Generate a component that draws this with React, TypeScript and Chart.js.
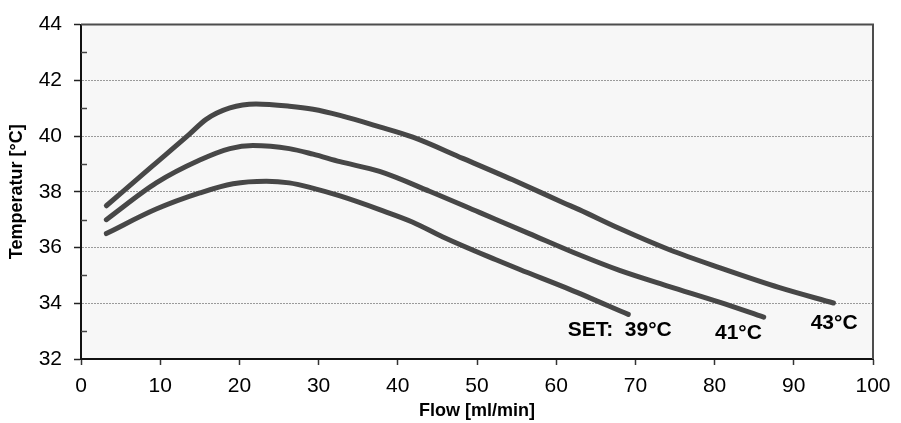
import React, { useEffect, useRef } from 'react';
import { Chart, registerables } from 'chart.js';
Chart.register(...registerables);

const FONT = "'Liberation Sans', Arial, Helvetica, sans-serif";

// SET 43°C curve
const flow43 = [3.2, 9, 13.7, 15.8, 18.8, 22.1, 26.3, 29.3, 32.7, 37.7, 41.9, 48.2, 54.5, 60.9, 62.9, 68.0, 74.3, 80.7, 88.2, 95];
const temp43 = [37.5, 38.92, 40.07, 40.6, 41.01, 41.15, 41.07, 40.96, 40.74, 40.33, 39.96, 39.2, 38.43, 37.61, 37.36, 36.68, 35.92, 35.27, 34.56, 34.01];

// SET 41°C curve
const flow41 = [3.2, 9.5, 15.0, 18.8, 21.7, 26.3, 29.3, 32.7, 37.7, 44.0, 50.3, 56.6, 62.9, 68.0, 74.3, 80.7, 86.2];
const temp41 = [37.0, 38.32, 39.14, 39.55, 39.66, 39.55, 39.35, 39.08, 38.73, 38.02, 37.26, 36.5, 35.74, 35.18, 34.6, 34.03, 33.5];

// SET 39°C curve
const flow39 = [3.2, 9.5, 15.0, 19.2, 23.4, 26.3, 29.0, 32.7, 37.7, 41.9, 45.7, 52.4, 55.4, 61.7, 69.1];
const temp39 = [36.5, 37.38, 37.96, 38.29, 38.38, 38.32, 38.15, 37.85, 37.36, 36.91, 36.38, 35.56, 35.21, 34.5, 33.6];

// curve annotations (data coordinates of text start / baseline)
const labelText = ['SET:  39°C', '41°C', '43°C'];
const labelFlow = [61.45, 80.05, 92.13];
const labelTemp = [32.84, 32.70, 33.09];

// axis ranges / ticks
const xMin = 0, xMax = 100, xStep = 10;
const yMin = 32, yMax = 44, yStep = 2;
const yMinorTicks = [33, 35, 37, 39, 41, 43];

const LINE_COLOR = '#474747';

function zip(xs: number[], ys: number[]) {
  return xs.map((x, i) => ({ x, y: ys[i] }));
}

const framePlugin = {
  id: 'frame',
  beforeDraw(chart: any) {
    const { ctx, chartArea: a } = chart;
    ctx.save();
    ctx.fillStyle = '#f7f7f7';
    ctx.fillRect(a.left, a.top, a.right - a.left, a.bottom - a.top);
    ctx.restore();
  },
  afterDraw(chart: any) {
    const { ctx, chartArea: a, scales } = chart;
    ctx.save();
    // top & right frame
    ctx.strokeStyle = '#4d4d4d';
    ctx.lineWidth = 2;
    ctx.beginPath();
    ctx.moveTo(a.left, a.top);
    ctx.lineTo(a.right, a.top);
    ctx.lineTo(a.right, a.bottom);
    ctx.stroke();
    // minor y ticks (inside)
    ctx.strokeStyle = '#444';
    ctx.lineWidth = 1.5;
    yMinorTicks.forEach((v) => {
      const y = Math.round(scales.y.getPixelForValue(v)) + 0.5;
      ctx.beginPath();
      ctx.moveTo(a.left, y);
      ctx.lineTo(a.left + 6, y);
      ctx.stroke();
    });
    // curve labels
    ctx.fillStyle = '#000';
    ctx.font = `bold 21px ${FONT}`;
    ctx.textAlign = 'left';
    ctx.textBaseline = 'alphabetic';
    labelText.forEach((t, i) => {
      ctx.fillText(t, scales.x.getPixelForValue(labelFlow[i]), scales.y.getPixelForValue(labelTemp[i]));
    });
    ctx.restore();
  },
};

export default function App() {
  const ref = useRef<HTMLCanvasElement | null>(null);
  useEffect(() => {
    document.body.style.margin = '0';
    const canvas = ref.current;
    if (!canvas) return;
    const ds = (xs: number[], ys: number[]) => ({
      data: zip(xs, ys),
      borderColor: LINE_COLOR,
      borderWidth: 5,
      pointRadius: 0,
      fill: false,
      cubicInterpolationMode: 'monotone' as const,
      borderCapStyle: 'round' as const,
      borderJoinStyle: 'round' as const,
    });
    const chart = new Chart(canvas, {
      type: 'line',
      data: {
        datasets: [ds(flow43, temp43), ds(flow41, temp41), ds(flow39, temp39)],
      },
      options: {
        animation: false,
        responsive: false,
        devicePixelRatio: 1,
        layout: { padding: { left: 0, right: 28, top: 18, bottom: 0 } },
        plugins: { legend: { display: false }, tooltip: { enabled: false } },
        scales: {
          x: {
            type: 'linear',
            min: xMin,
            max: xMax,
            afterFit: (s: any) => { s.height = 64; },
            ticks: {
              stepSize: xStep,
              autoSkip: false,
              maxRotation: 0,
              color: '#000',
              padding: 9,
              font: { family: FONT, size: 21 },
            },
            grid: {
              drawOnChartArea: false,
              drawTicks: true,
              tickLength: 6,
              tickColor: '#333',
              tickWidth: 1.5,
            },
            border: { color: '#111', width: 2 },
            title: {
              display: true,
              text: 'Flow [ml/min]',
              color: '#000',
              font: { family: FONT, size: 18, weight: 'bold' },
              padding: { top: 0, bottom: 1 },
            },
          },
          y: {
            type: 'linear',
            min: yMin,
            max: yMax,
            afterFit: (s: any) => { s.width = 81; },
            ticks: {
              stepSize: yStep,
              color: '#000',
              padding: 12,
              font: { family: FONT, size: 21 },
            },
            grid: {
              color: (c: any) => (c.tick && (c.tick.value === yMin || c.tick.value === yMax) ? 'rgba(0,0,0,0)' : '#9a9a9a'),
              lineWidth: 1,
              drawTicks: true,
              tickLength: 7,
              tickColor: '#222',
              tickWidth: 1.5,
              tickBorderDash: [],
            },
            border: { color: '#111', width: 2, dash: [2, 1] },
            title: {
              display: true,
              text: 'Temperatur [°C]',
              color: '#000',
              font: { family: FONT, size: 18, weight: 'bold' },
              padding: { top: 6, bottom: 0 },
            },
          },
        },
      },
      plugins: [framePlugin],
    });
    return () => chart.destroy();
  }, []);
  return (
    <div style={{ width: 901, height: 423 }}>
      <canvas ref={ref} width={901} height={423} />
    </div>
  );
}
